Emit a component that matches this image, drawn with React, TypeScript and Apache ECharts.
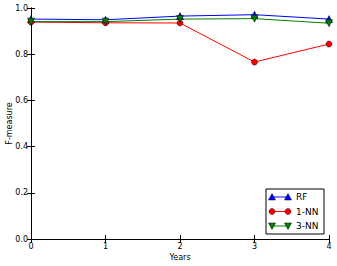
import React, { useEffect, useRef } from "react";
import * as echarts from "echarts";

const years = [0, 1, 2, 3, 4];
const rf = [0.952, 0.949, 0.965, 0.971, 0.952];
const nn1 = [0.939, 0.936, 0.935, 0.766, 0.844];
const nn3 = [0.941, 0.941, 0.952, 0.954, 0.934];
const yTicks = [0, 0.2, 0.4, 0.6, 0.8, 1.0];

const FONT = "DejaVu Sans";

export default function App() {
  const ref = useRef<HTMLDivElement>(null);
  useEffect(() => {
    const chart = echarts.init(ref.current!, null, { renderer: "svg" });
    const pts = (arr: number[]) => years.map((x, i) => [x, arr[i]]);
    const gl = 31, gr = 329, gt = 8, gb = 239;
    const mk = (color: string, symbol: string, rotate = 0) => ({
      type: "line",
      symbol,
      symbolRotate: rotate,
      symbolSize: symbol === "circle" ? 6 : 7,
      lineStyle: { color, width: 1 },
      itemStyle: { color, borderColor: "#000", borderWidth: 0.5 },
      emphasis: { disabled: true },
    });
    const legendRows = [
      { name: "RF", color: "#0000ff", kind: "up" },
      { name: "1-NN", color: "#ff0000", kind: "circle" },
      { name: "3-NN", color: "#008000", kind: "down" },
    ];
    const lx = 266, ly = 189, lw = 58, lh = 45;
    const graphics: any[] = [
      {
        type: "rect",
        shape: { x: lx, y: ly, width: lw, height: lh },
        style: { fill: "#fff", stroke: "#000", lineWidth: 1 },
        z: 100,
      },
    ];
    legendRows.forEach((r, i) => {
      const y = ly + 8 + i * 14.5;
      const x1 = lx + 6, x2 = lx + 22;
      graphics.push({
        type: "line",
        shape: { x1, y1: y, x2, y2: y },
        style: { stroke: r.color, lineWidth: 1 },
        z: 101,
      });
      [x1, x2].forEach((mx) => {
        if (r.kind === "circle") {
          graphics.push({
            type: "circle",
            shape: { cx: mx, cy: y, r: 3 },
            style: { fill: r.color, stroke: "#000", lineWidth: 0.5 },
            z: 102,
          });
        } else {
          const s = r.kind === "up" ? 1 : -1;
          graphics.push({
            type: "polygon",
            shape: {
              points: [
                [mx, y - 3.5 * s],
                [mx - 3.5, y + 3 * s],
                [mx + 3.5, y + 3 * s],
              ],
            },
            style: { fill: r.color, stroke: "#000", lineWidth: 0.5 },
            z: 102,
          });
        }
      });
      graphics.push({
        type: "text",
        x: lx + 30,
        y,
        style: {
          text: r.name,
          fill: "#000",
          font: `9px '${FONT}'`,
          verticalAlign: "middle",
        },
        z: 102,
      });
    });

    const axisCommon = {
      type: "value" as const,
      axisLine: { show: true, lineStyle: { color: "#000", width: 1 } },
      axisTick: { show: true, inside: true, length: 4, lineStyle: { color: "#000" } },
      splitLine: { show: false },
    };
    chart.setOption({
      animation: false,
      grid: {
        left: gl,
        right: 337 - gr,
        top: gt,
        bottom: 266 - gb,
        containLabel: false,
        outerBoundsMode: "none",
      },
      xAxis: [
        {
          ...axisCommon,
          min: 0,
          max: 4,
          interval: 1,
          name: "Years",
          nameLocation: "middle",
          nameGap: 14,
          nameMoveOverlap: false,
          nameTextStyle: { fontFamily: FONT, fontSize: 8, color: "#000" },
          axisLabel: { fontFamily: FONT, fontSize: 8, color: "#000", margin: 3 },
        },
        {
          ...axisCommon,
          position: "top",
          min: 0,
          max: 4,
          interval: 1,
          axisLabel: { show: false },
        },
      ],
      yAxis: [
        {
          ...axisCommon,
          min: 0,
          max: 1,
          interval: 0.2,
          name: "F-measure",
          nameLocation: "middle",
          nameGap: 18,
          nameMoveOverlap: false,
          nameTextStyle: { fontFamily: FONT, fontSize: 8, color: "#000" },
          axisLabel: {
            fontFamily: FONT,
            fontSize: 8,
            color: "#000",
            margin: 3,
            formatter: (v: number) => {
              const t = yTicks.find((k) => Math.abs(k - v) < 1e-9);
              return (t ?? v).toFixed(1);
            },
          },
        },
        {
          ...axisCommon,
          position: "right",
          min: 0,
          max: 1,
          interval: 0.2,
          axisLabel: { show: false },
        },
      ],
      series: [
        { ...mk("#0000ff", "triangle"), name: "RF", data: pts(rf) },
        { ...mk("#ff0000", "circle"), name: "1-NN", data: pts(nn1) },
        { ...mk("#008000", "triangle", 180), name: "3-NN", data: pts(nn3) },
      ],
      graphic: graphics,
    });
    return () => chart.dispose();
  }, []);
  return <div ref={ref} style={{ width: 337, height: 266, position: "absolute", left: 0, top: 0 }} />;
}
